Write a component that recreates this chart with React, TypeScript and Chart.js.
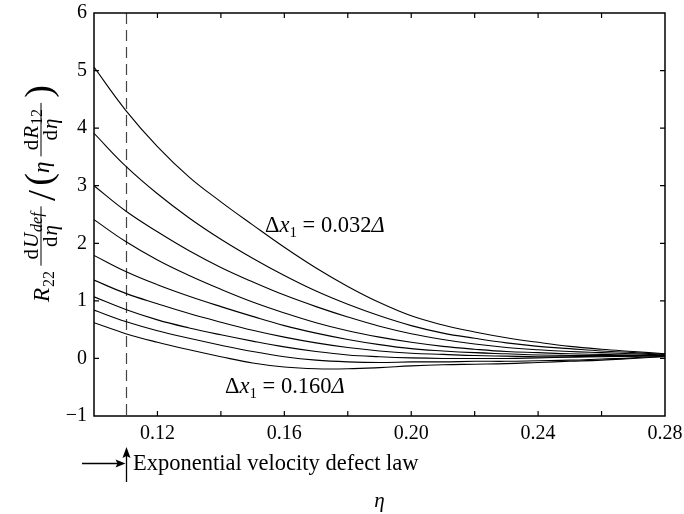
import React, { useEffect, useRef } from "react";
import { Chart, registerables } from "chart.js";

Chart.register(...registerables);

// ---- data ----
const eta = [0.10, 0.11, 0.12, 0.13, 0.14, 0.15, 0.16, 0.17, 0.18, 0.19, 0.20, 0.21, 0.22, 0.23, 0.24, 0.25, 0.26, 0.27, 0.28];
const dx032 = [5.06, 4.31, 3.68, 3.15, 2.72, 2.32, 1.93, 1.57, 1.25, 0.97, 0.74, 0.58, 0.46, 0.36, 0.28, 0.21, 0.16, 0.12, 0.08];
const dx048 = [3.91, 3.34, 2.86, 2.44, 2.07, 1.74, 1.44, 1.17, 0.94, 0.74, 0.57, 0.44, 0.35, 0.27, 0.21, 0.17, 0.13, 0.10, 0.07];
const dx064 = [3.00, 2.56, 2.20, 1.87, 1.58, 1.33, 1.10, 0.90, 0.72, 0.56, 0.43, 0.33, 0.25, 0.19, 0.15, 0.12, 0.10, 0.08, 0.06];
const dx080 = [2.41, 2.03, 1.71, 1.44, 1.20, 0.98, 0.79, 0.62, 0.48, 0.37, 0.28, 0.21, 0.16, 0.12, 0.10, 0.08, 0.07, 0.06, 0.05];
const dx096 = [1.79, 1.51, 1.28, 1.08, 0.90, 0.73, 0.57, 0.44, 0.33, 0.24, 0.17, 0.13, 0.10, 0.08, 0.06, 0.05, 0.05, 0.05, 0.05];
const dx112 = [1.36, 1.13, 0.95, 0.78, 0.63, 0.49, 0.37, 0.27, 0.19, 0.13, 0.09, 0.07, 0.05, 0.04, 0.03, 0.03, 0.04, 0.04, 0.05];
const dx128 = [1.07, 0.85, 0.67, 0.53, 0.41, 0.30, 0.20, 0.12, 0.06, 0.03, 0.01, 0.00, 0.00, 0.00, 0.01, 0.02, 0.03, 0.04, 0.05];
const dx144 = [0.84, 0.64, 0.48, 0.35, 0.23, 0.12, 0.03, -0.03, -0.06, -0.07, -0.06, -0.06, -0.05, -0.05, -0.04, -0.03, -0.01, 0.01, 0.04];
const dx160 = [0.62, 0.43, 0.28, 0.15, 0.03, -0.08, -0.15, -0.18, -0.18, -0.16, -0.13, -0.11, -0.10, -0.09, -0.07, -0.05, -0.03, 0.00, 0.03];
const seriesList = [dx032, dx048, dx064, dx080, dx096, dx112, dx128, dx144, dx160];

const xMin = 0.10;
const xMax = 0.28;
const xStep = 0.02;
const yMin = -1;
const yMax = 6;
const yStep = 1;
const dashEta = 0.11;

// annotation anchors (data coords)
const topLabelPos = [0.1539, 2.19];
const bottomLabelPos = [0.1413, -0.60];

const SERIF = '"Liberation Serif", "Times New Roman", serif';
const f = (style: string, size: number) => `${style} ${size}px ${SERIF}`;
const ANN = 22.5;

type Run = { t: string; font: string; dy?: number; gap?: number };

function runsWidth(ctx: CanvasRenderingContext2D, runs: Run[]) {
  let w = 0;
  for (const r of runs) {
    ctx.font = r.font;
    w += ctx.measureText(r.t).width + (r.gap || 0);
  }
  return w;
}
function drawRuns(ctx: CanvasRenderingContext2D, runs: Run[], x: number, y: number) {
  let cx = x;
  for (const r of runs) {
    ctx.font = r.font;
    ctx.fillText(r.t, cx, y + (r.dy || 0));
    cx += ctx.measureText(r.t).width + (r.gap || 0);
  }
  return cx - x;
}

function drawYTitle(ctx: CanvasRenderingContext2D) {
  const main = 23, fr = 21, sub = 16;
  const barY = -8;
  const targetSpan = 217;
  type Part =
    | { kind: "runs"; runs: Run[] }
    | { kind: "frac"; num: Run[]; den: Run[] }
    | { kind: "gap"; w: number };
  const parts: Part[] = [
    { kind: "runs", runs: [{ t: "R", font: f("italic", main), gap: 1 }, { t: "22", font: f("normal", sub), dy: 5 }] },
    { kind: "gap", w: 1 },
    {
      kind: "frac",
      num: [{ t: "d", font: f("normal", fr), gap: 1 }, { t: "U", font: f("italic", fr), gap: 1 }, { t: "def", font: f("italic", sub), dy: 4 }],
      den: [{ t: "d", font: f("normal", fr), gap: 1 }, { t: "η", font: f("italic", fr) }],
    },
    { kind: "gap", w: 1 },
    { kind: "runs", runs: [{ t: "/", font: f("normal", 40), dy: 6 }] },
    { kind: "gap", w: 1 },
    { kind: "runs", runs: [{ t: "(", font: f("normal", 38), dy: 2 }] },
    { kind: "runs", runs: [{ t: "η", font: f("italic", main) }] },
    { kind: "gap", w: 1 },
    {
      kind: "frac",
      num: [{ t: "d", font: f("normal", fr), gap: 1 }, { t: "R", font: f("italic", fr), gap: 1 }, { t: "12", font: f("normal", sub), dy: 4 }],
      den: [{ t: "d", font: f("normal", fr), gap: 1 }, { t: "η", font: f("italic", fr) }],
    },
    { kind: "gap", w: 1 },
    { kind: "runs", runs: [{ t: ")", font: f("normal", 38), dy: 2 }] },
  ];
  let widths = parts.map((p) => {
    if (p.kind === "runs") return runsWidth(ctx, p.runs);
    if (p.kind === "gap") return p.w;
    return Math.max(runsWidth(ctx, p.num), runsWidth(ctx, p.den)) + 6;
  });
  const natural = widths.reduce((a, b) => a + b, 0);
  const extra = Math.max(0, targetSpan - natural);
  const gapCount = parts.filter((p) => p.kind === "gap").length;
  const fracCount = parts.filter((p) => p.kind === "frac").length;
  widths = widths.map((w, i) => {
    const k = parts[i].kind;
    if (k === "gap") return w + (extra * 0.5) / gapCount;
    if (k === "frac") return w + (extra * 0.5) / fracCount;
    return w;
  });
  const total = widths.reduce((a, b) => a + b, 0);
  ctx.save();
  ctx.translate(49, 193.5 + total / 2);
  ctx.rotate(-Math.PI / 2);
  ctx.fillStyle = "#000";
  ctx.strokeStyle = "#000";
  ctx.textBaseline = "alphabetic";
  ctx.textAlign = "left";
  let x = 0;
  parts.forEach((p, i) => {
    const w = widths[i];
    if (p.kind === "runs") drawRuns(ctx, p.runs, x, 0);
    else if (p.kind === "frac") {
      const nw = runsWidth(ctx, p.num);
      const dw = runsWidth(ctx, p.den);
      drawRuns(ctx, p.num, x + (w - nw) / 2, barY - 3);
      drawRuns(ctx, p.den, x + (w - dw) / 2, barY + 16);
      ctx.lineWidth = 1;
      ctx.beginPath();
      ctx.moveTo(x + 1, barY);
      ctx.lineTo(x + w - 1, barY);
      ctx.stroke();
    }
    x += w;
  });
  ctx.restore();
}

const deco = {
  id: "deco",
  beforeDatasetsDraw(chart: any) {
    const { ctx, chartArea: a, scales } = chart;
    const x = Math.round(scales.x.getPixelForValue(dashEta)) + 0.5;
    ctx.save();
    ctx.strokeStyle = "#444";
    ctx.lineWidth = 1.2;
    ctx.setLineDash([11, 6]);
    ctx.beginPath();
    ctx.moveTo(x, a.top);
    ctx.lineTo(x, a.bottom);
    ctx.stroke();
    ctx.restore();
  },
  afterDraw(chart: any) {
    const { ctx, chartArea: a, scales } = chart;
    const xs = scales.x, ys = scales.y;
    ctx.save();
    ctx.strokeStyle = "#000";
    ctx.fillStyle = "#000";
    ctx.lineWidth = 1.5;
    ctx.strokeRect(a.left, a.top, a.right - a.left, a.bottom - a.top);
    ctx.lineWidth = 1.2;
    const tl = 5;
    ctx.beginPath();
    for (const t of xs.ticks) {
      const px = xs.getPixelForValue(t.value);
      if (px <= a.left + 1 || px >= a.right - 1) continue;
      ctx.moveTo(px, a.bottom);
      ctx.lineTo(px, a.bottom - tl);
      ctx.moveTo(px, a.top);
      ctx.lineTo(px, a.top + tl);
    }
    for (const t of ys.ticks) {
      const py = ys.getPixelForValue(t.value);
      if (py <= a.top + 1 || py >= a.bottom - 1) continue;
      ctx.moveTo(a.left, py);
      ctx.lineTo(a.left + tl, py);
      ctx.moveTo(a.right, py);
      ctx.lineTo(a.right - tl, py);
    }
    ctx.stroke();

    // curve labels
    ctx.textBaseline = "alphabetic";
    ctx.textAlign = "left";
    const lab = (val: string): Run[] => [
      { t: "Δ", font: f("normal", ANN) },
      { t: "x", font: f("italic", ANN) },
      { t: "1", font: f("normal", 15), dy: 5 },
      { t: " = " + val, font: f("normal", ANN) },
      { t: "Δ", font: f("italic", ANN) },
    ];
    drawRuns(ctx, lab("0.032"), xs.getPixelForValue(topLabelPos[0]), ys.getPixelForValue(topLabelPos[1]));
    drawRuns(ctx, lab("0.160"), xs.getPixelForValue(bottomLabelPos[0]), ys.getPixelForValue(bottomLabelPos[1]));

    // exponential velocity defect law marker
    const vx = Math.round(xs.getPixelForValue(dashEta)) + 0.5;
    ctx.lineWidth = 1.3;
    ctx.beginPath();
    ctx.moveTo(82, 463.5);
    ctx.lineTo(vx - 8, 463.5);
    ctx.moveTo(vx, 482);
    ctx.lineTo(vx, 456);
    ctx.stroke();
    ctx.beginPath();
    ctx.moveTo(vx - 1, 463.5);
    ctx.lineTo(vx - 11, 459.5);
    ctx.lineTo(vx - 9, 463.5);
    ctx.lineTo(vx - 11, 467.5);
    ctx.closePath();
    ctx.fill();
    ctx.beginPath();
    ctx.moveTo(vx, 447);
    ctx.lineTo(vx - 4, 458);
    ctx.lineTo(vx, 456);
    ctx.lineTo(vx + 4, 458);
    ctx.closePath();
    ctx.fill();
    ctx.font = f("normal", ANN);
    ctx.fillText("Exponential velocity defect law", 133, 470);

    // x title
    ctx.font = f("italic", 21);
    ctx.textAlign = "center";
    ctx.fillText("η", (a.left + a.right) / 2, 507);
    ctx.restore();

    drawYTitle(ctx);
  },
};

const zeroPad = (s: any) => {
  s.paddingTop = 0;
  s.paddingBottom = 0;
  s.paddingLeft = 0;
  s.paddingRight = 0;
};

export default function App() {
  const ref = useRef<HTMLCanvasElement>(null);
  useEffect(() => {
    if (!ref.current) return;
    const chart = new Chart(ref.current, {
      type: "line",
      data: {
        datasets: seriesList.map((s, i) => ({
          label: "series" + i,
          data: eta.map((e, j) => ({ x: e, y: s[j] })),
          borderColor: "#000",
          borderWidth: 1.1,
          pointRadius: 0,
          fill: false,
          tension: 0.4,
        })),
      },
      options: {
        responsive: false,
        animation: false,
        devicePixelRatio: 1,
        layout: { padding: { top: 13, right: 19, left: 0, bottom: 0 } },
        plugins: { legend: { display: false }, tooltip: { enabled: false } },
        scales: {
          x: {
            type: "linear",
            min: xMin,
            max: xMax,
            grid: { display: false, drawTicks: false },
            border: { display: false },
            ticks: {
              stepSize: xStep,
              autoSkip: false,
              maxRotation: 0,
              padding: 6,
              color: "#000",
              font: { family: SERIF, size: 20 },
              callback: (v: any) => {
                const k = Math.round(Number(v) * 100);
                return k % 4 === 0 && k > 10 ? (k / 100).toFixed(2) : "";
              },
            },
            afterFit: (s: any) => {
              s.height = 98;
              zeroPad(s);
            },
          },
          y: {
            type: "linear",
            min: yMin,
            max: yMax,
            grid: { display: false, drawTicks: false },
            border: { display: false },
            ticks: {
              stepSize: yStep,
              padding: 7,
              color: "#000",
              font: { family: SERIF, size: 20 },
              callback: (v: any) => (Number(v) < 0 ? "\u2212" + Math.abs(Number(v)) : String(v)),
            },
            afterFit: (s: any) => {
              s.width = 94;
              zeroPad(s);
            },
          },
        },
      },
      plugins: [deco],
    });
    return () => chart.destroy();
  }, []);
  return (
    <div style={{ position: "absolute", left: 0, top: 0, width: 684, height: 514, background: "#fff" }}>
      <canvas ref={ref} width={684} height={514} style={{ display: "block", width: 684, height: 514 }} />
    </div>
  );
}
